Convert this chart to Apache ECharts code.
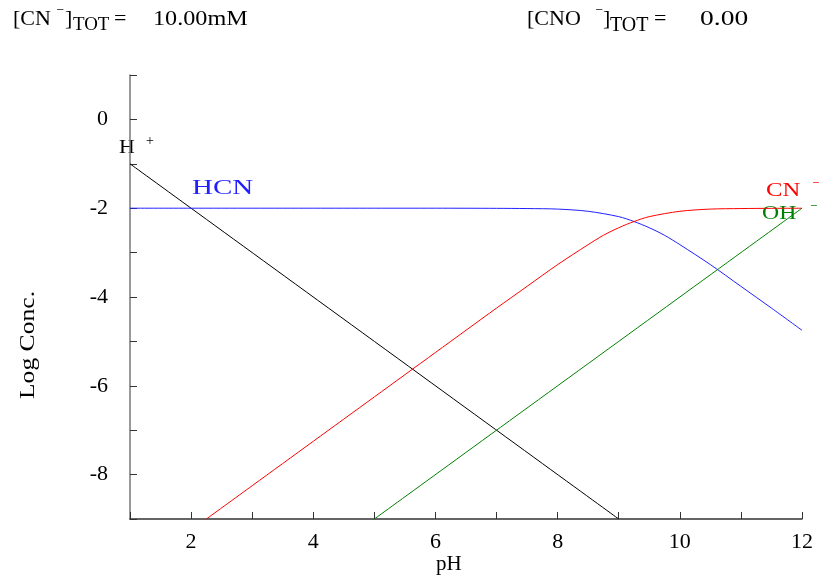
<!DOCTYPE html>
<html>
<head>
<meta charset="utf-8">
<script src="https://cdn.jsdelivr.net/npm/echarts@6/dist/echarts.min.js"></script>
<style>html,body{margin:0;padding:0;background:#fff}#c{width:822px;height:581px}</style>
</head>
<body>
<div id="c"></div>
<script>
// pH values and log concentrations
const hPlusPH = [1, 9];
const hPlusLog = [-1, -9];
const ohPH = [5, 12];
const ohLog = [-9, -2];
const hcnPH = [1, 2, 3, 4, 5, 6, 7, 7.5, 8, 8.5, 9, 9.25, 9.5, 9.75, 10, 10.5, 11, 11.5, 12];
const hcnLog = [-2, -2, -2, -2, -2, -2, -2.003, -2.008, -2.02, -2.07, -2.19, -2.30, -2.44, -2.61, -2.82, -3.27, -3.76, -4.25, -4.75];
const cnPH = [2.25, 3, 4, 5, 6, 7, 7.5, 8, 8.5, 8.75, 9, 9.25, 9.5, 10, 10.5, 11, 11.5, 12];
const cnLog = [-9, -8.25, -7.25, -6.25, -5.25, -4.25, -3.76, -3.27, -2.82, -2.61, -2.44, -2.30, -2.19, -2.07, -2.02, -2.008, -2.003, -2.001];
const xTickLabels = [2, 4, 6, 8, 10, 12];
const yTickLabels = [0, -2, -4, -6, -8];

const pairs = (xs, ys) => xs.map((x, i) => [x, ys[i]]);
const FONT = '"Liberation Serif", "DejaVu Serif", serif';

const chart = echarts.init(document.getElementById('c'));
const lineSeries = (data, color) => ({
  type: 'line', data, showSymbol: false, symbol: 'none', smooth: 0.3,
  lineStyle: { color, width: 1 }, clip: true, animation: false
});
const txt = (text, x, y, size, fill, sx) => ({
  type: 'text', x, y, scaleX: sx || 1, silent: true,
  style: { text, fontFamily: FONT, fontSize: size, fill, verticalAlign: 'top' }
});

chart.setOption({
  animation: false,
  backgroundColor: '#fff',
  grid: { left: 130, right: 20, top: 75, bottom: 62, containLabel: false },
  xAxis: {
    type: 'value', min: 1, max: 12, interval: 1,
    axisLine: { onZero: false, lineStyle: { color: '#333', width: 1.5 } },
    axisTick: { inside: true, length: 7, lineStyle: { color: '#333' } },
    axisLabel: { fontFamily: FONT, fontSize: 22, color: '#000', margin: 12,
      formatter: v => xTickLabels.includes(v) ? String(v) : '' },
    splitLine: { show: false }
  },
  yAxis: {
    type: 'value', min: -9, max: 1, interval: 1,
    axisLine: { onZero: false, lineStyle: { color: '#777', width: 1.5 } },
    axisTick: { inside: true, length: 7, lineStyle: { color: '#333' } },
    axisLabel: { fontFamily: FONT, fontSize: 22, color: '#000', margin: 22,
      formatter: v => yTickLabels.includes(v) ? String(v) : '' },
    splitLine: { show: false }
  },
  series: [
    lineSeries(pairs(hPlusPH, hPlusLog), '#000000'),
    lineSeries(pairs(hcnPH, hcnLog), '#2020ff'),
    lineSeries(pairs(cnPH, cnLog), '#ff0000'),
    lineSeries(pairs(ohPH, ohLog), '#008000')
  ],
  graphic: [
    // top-left concentration
    txt('[CN', 13, 8, 22, '#000', 1),
    txt('⁻', 56, 6, 16, '#000'),
    txt(']', 65, 8, 22, '#000'),
    txt('TOT', 73, 16, 18, '#000', 1.05),
    txt('=', 114, 8, 22, '#000'),
    txt('10.00mM', 153, 8, 22, '#000', 1.1),
    // top-right concentration
    txt('[CNO', 527, 8, 22, '#000'),
    txt('⁻', 595, 6, 16, '#000'),
    txt(']', 603, 8, 22, '#000'),
    txt('TOT', 610, 16, 20, '#000'),
    txt('=', 654, 8, 22, '#000'),
    txt('0.00', 700, 8, 22, '#000', 1.25),
    // curve labels
    txt('H', 119, 139, 19, '#000', 1.15),
    txt('+', 146, 134, 14, '#000'),
    txt('HCN', 192, 179, 20, '#2020ff', 1.45),
    txt('CN', 766, 182, 19, '#ff0000', 1.3),
    txt('⁻', 812, 180, 15, '#ff0000'),
    txt('OH', 762, 205, 19, '#008000', 1.25),
    txt('⁻', 810, 203, 15, '#008000'),
    // axis titles
    txt('pH', 436, 554, 21, '#000'),
    { type: 'text', x: 28, y: 345, rotation: Math.PI / 2, scaleX: 1.22, silent: true,
      style: { text: 'Log Conc.', fontFamily: FONT, fontSize: 21, fill: '#000', align: 'center', verticalAlign: 'middle' } }
  ]
});
</script>
</body>
</html>
